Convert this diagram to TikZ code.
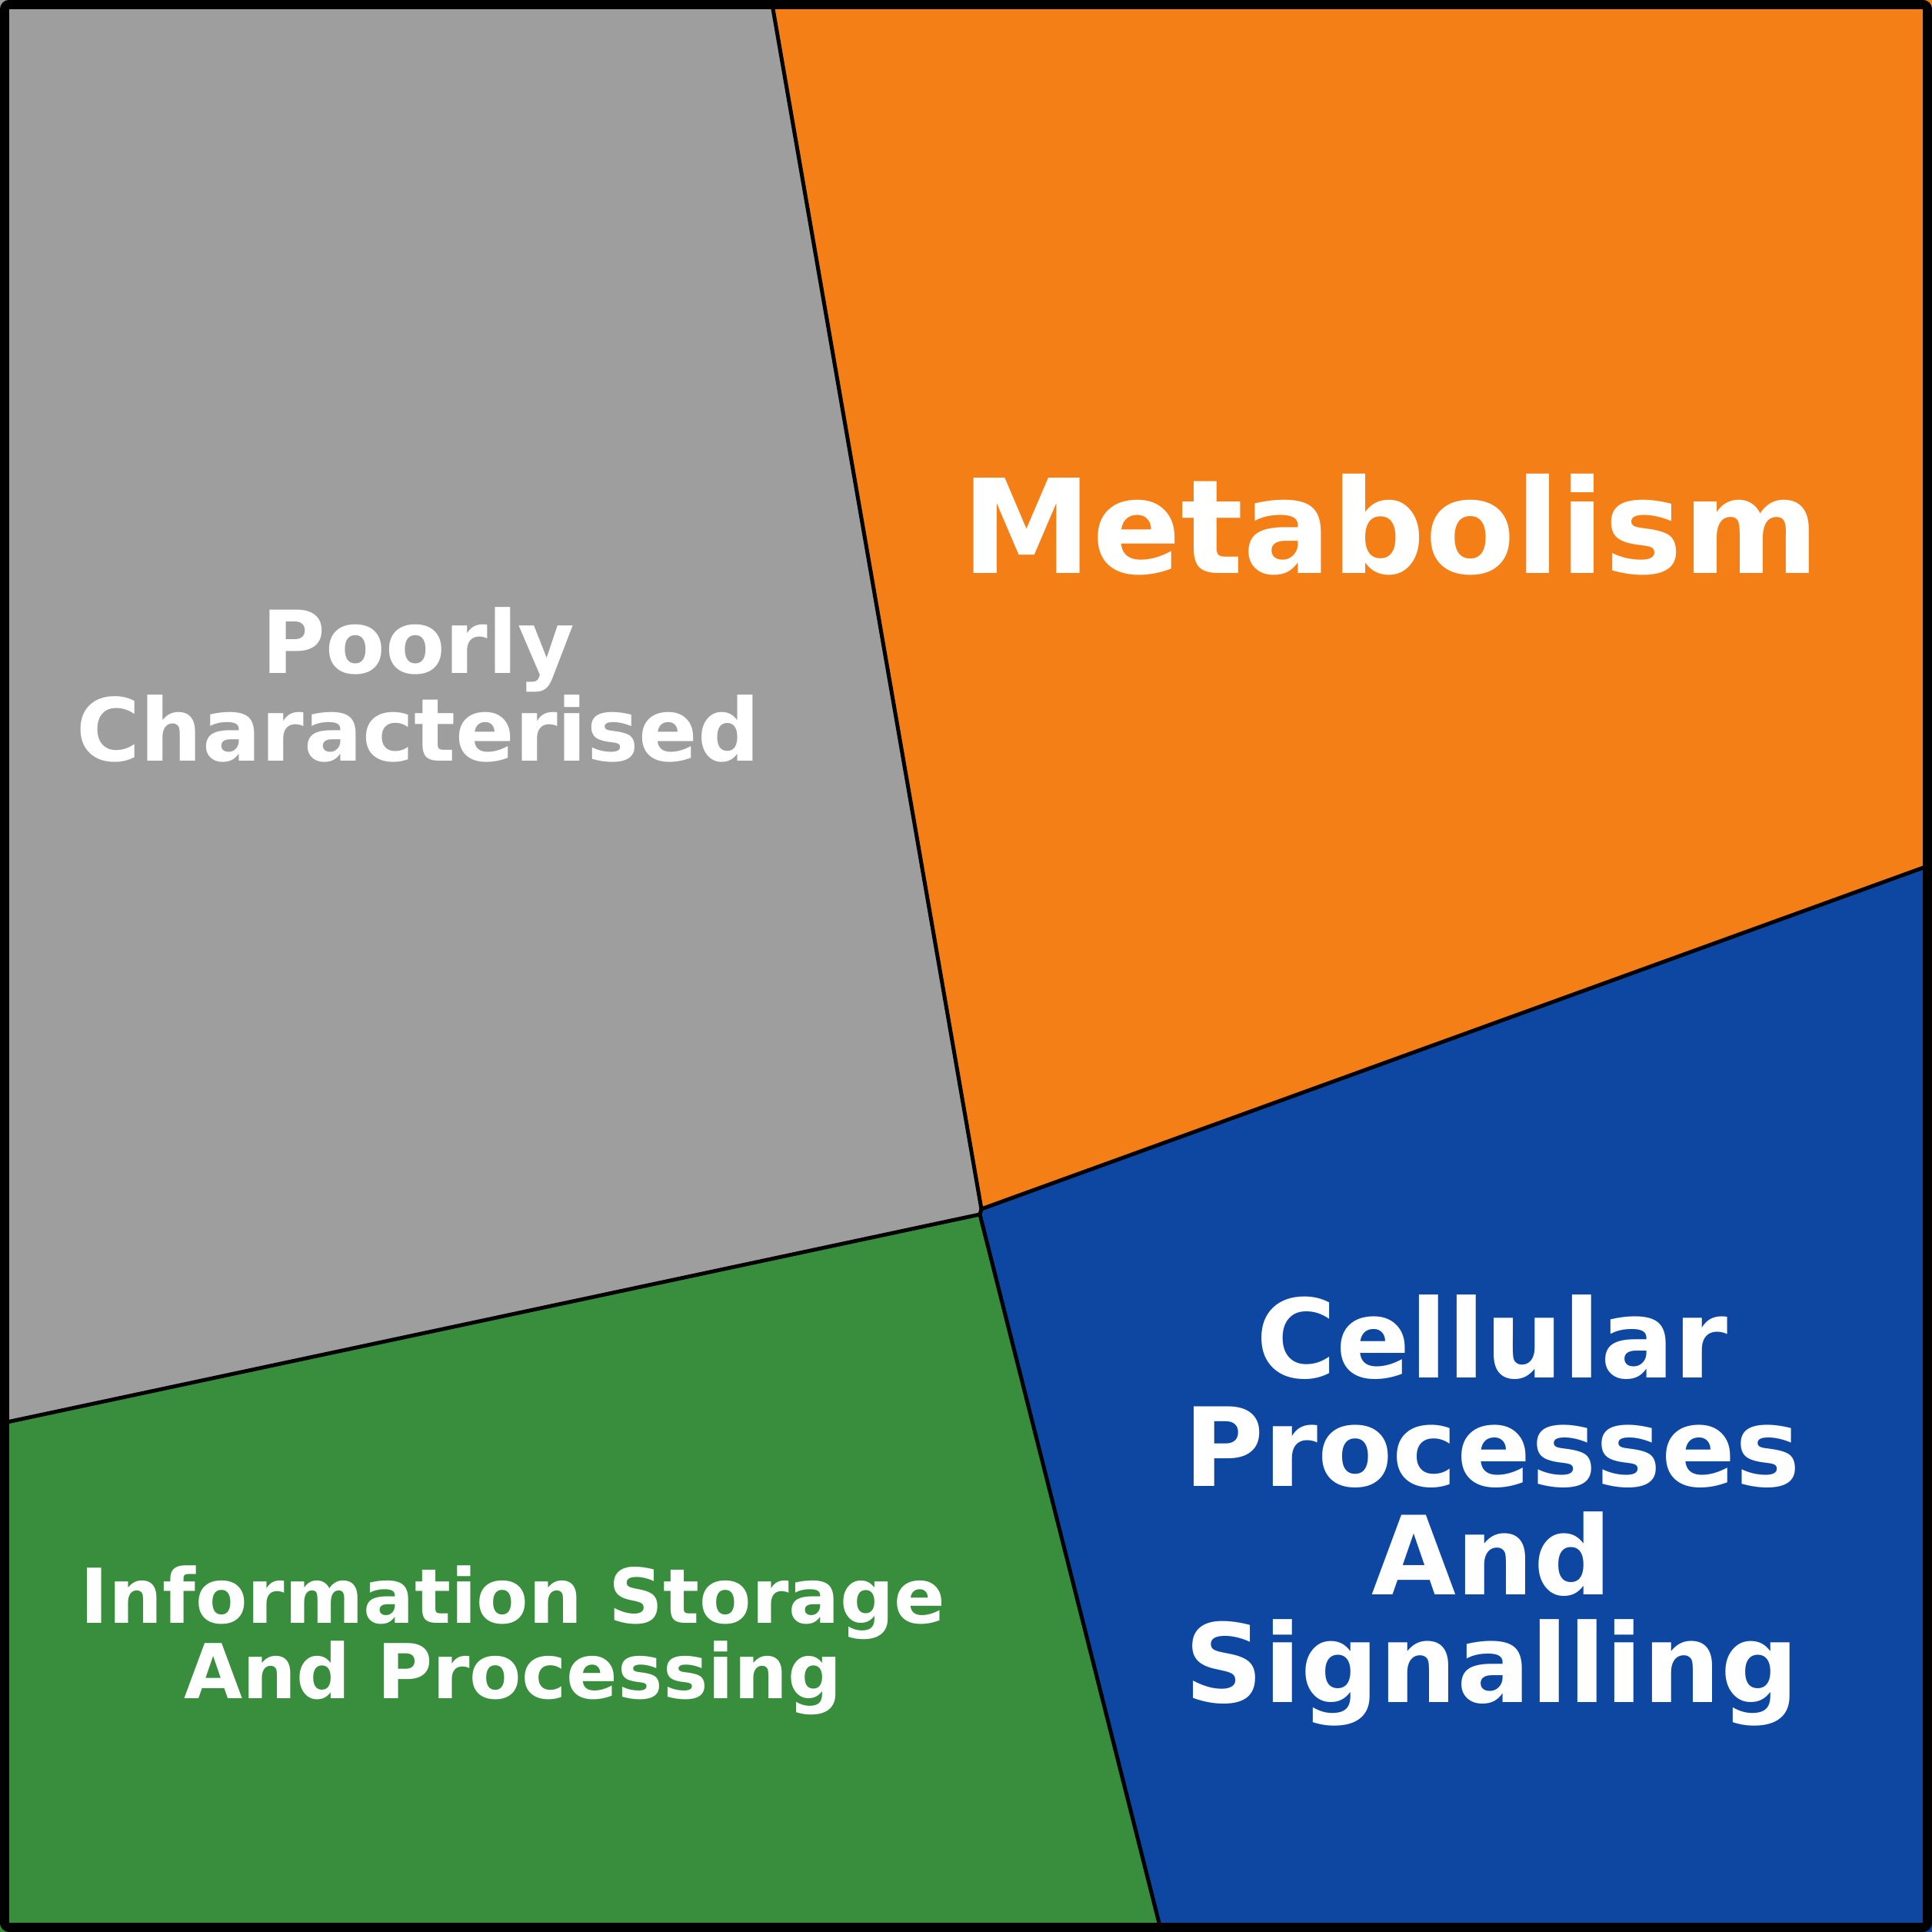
\documentclass[tikz,border=0pt]{standalone}
\usepackage{fontspec}
\setmainfont{DejaVu Sans}
\definecolor{poorgray}{HTML}{9E9E9E}
\definecolor{metaorange}{HTML}{F57F17}
\definecolor{cellblue}{HTML}{0D47A1}
\definecolor{infogreen}{HTML}{388E3C}
\tikzset{
  cell/.style     = {draw=black, line width=0.05cm, line join=round},
  frame/.style    = {draw=black, line width=0.12cm, rounded corners=0.06cm},
  celltext/.style = {text=white, align=center, inner sep=0pt, anchor=base},
  huge/.style     = {celltext, font=\fontsize{48.4pt}{48.4pt}\selectfont\bfseries},
  large/.style    = {celltext, font=\fontsize{40.4pt}{40.1pt}\selectfont\bfseries},
  medium/.style   = {celltext, font=\fontsize{32.15pt}{32.5pt}\selectfont\bfseries},
  small/.style    = {celltext, font=\fontsize{28pt}{27.9pt}\selectfont\bfseries}
}
\begin{document}
\begin{tikzpicture}
  \useasboundingbox (0,0) rectangle (25.12,25.12);

  % cell corners
  \coordinate (top)    at (10.03,25.12);
  \coordinate (right)  at (25.12,13.88);
  \coordinate (bottom) at (15.10,0);
  \coordinate (left)   at (0,6.61);
  \coordinate (upper)  at (12.76,9.40);
  \coordinate (lower)  at (12.74,9.33);

  % cells
  \fill[poorgray]   (0,25.12) -- (top) -- (upper) -- (lower) -- (left) -- cycle;
  \fill[metaorange] (top) -- (25.12,25.12) -- (right) -- (upper) -- cycle;
  \fill[cellblue]   (upper) -- (right) -- (25.12,0) -- (bottom) -- (lower) -- cycle;
  \fill[infogreen]  (left) -- (lower) -- (bottom) -- (0,0) -- cycle;
  \draw[cell] (top) -- (upper) -- (right);
  \draw[cell] (left) -- (lower) -- (bottom);
  \draw[cell] (upper) -- (lower);
  \draw[frame] (0.06,0.06) rectangle (25.06,25.06);

  % labels (base = last line)
  \node[huge]   (metabolism) at (18.08,17.66) {Metabolism};
  \node[medium] (poorly)     at (5.44,15.22)  {Poorly\\Characterised};
  \node[small]  (storage)    at (6.67,3.03)   {Information Storage\\And Processing};
  \node[large]  (cellular)   at (19.40,2.98)  {Cellular\\Processes\\And\\Signalling};
\end{tikzpicture}
\end{document}
